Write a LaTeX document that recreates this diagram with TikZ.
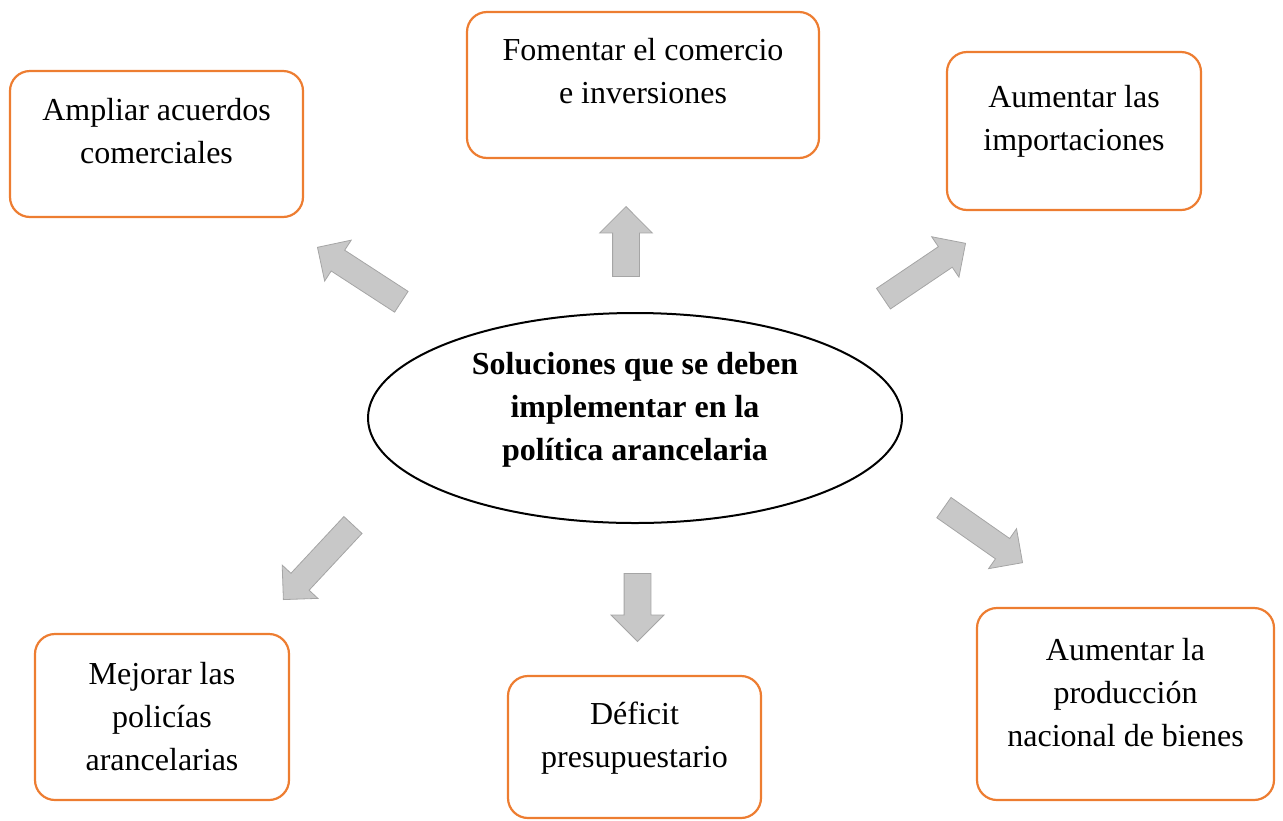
\documentclass[tikz,border=0pt]{standalone}
\usepackage{fontspec}
\setmainfont{Liberation Serif}
\usetikzlibrary{shapes.geometric,shapes.arrows}
\definecolor{naranja}{RGB}{237,125,49}
\definecolor{grisrelleno}{RGB}{200,200,200}
\definecolor{grisborde}{RGB}{165,165,165}

\begin{document}
\begin{tikzpicture}[
        % --- AJUSTES GENERALES ---
        x=1pt, y=-1pt, % una unidad = un pixel de la imagen
        % Estilo de las cajas (rectangulo redondeado naranja)
        caja/.style={
            rectangle,
            rounded corners=20pt,
            draw=naranja,
            line width=2.2pt
        },
        % Estilo del texto de las cajas
        texto/.style={
            anchor=north,
            align=center,
            inner sep=0pt,
            font=\fontsize{32}{43}\selectfont
        },
        % Estilo de la elipse central
        elipse/.style={
            ellipse,
            draw,
            line width=2pt,
            minimum width=534pt,
            minimum height=210pt
        },
        % Estilo de las flechas grises (colocadas por la punta)
        flecha/.style={
            single arrow,
            anchor=tip,
            draw=grisborde,
            fill=grisrelleno,
            line width=0.8pt,
            inner xsep=0pt,
            inner ysep=12pt, % medio ancho del cuerpo
            minimum width=48pt,
            single arrow head extend=12pt,
            single arrow head indent=0pt
        },
        % Flechas verticales (un poco mas anchas)
        flechav/.style={
            flecha,
            inner ysep=13pt,
            minimum width=52pt,
            single arrow head extend=13pt
        }
    ]

    % Marco de la imagen
    \useasboundingbox (0,0) rectangle (1283,820);

    % --- CENTRO: ELIPSE ---
    \node[elipse] (sol) at (635,418) {};
    \node[align=center, inner sep=0pt, font=\bfseries\fontsize{32}{43}\selectfont] (sol-t) at (635,410)
        {Soluciones que se deben\\implementar en la\\política arancelaria};

    % --- FILA SUPERIOR ---
    \node[caja, minimum width=293pt, minimum height=146pt] (amp) at (156.5,144) {};
    \node[texto] (amp-t) at (156.5,98) {Ampliar acuerdos\\comerciales};

    \node[caja, minimum width=352pt, minimum height=146pt] (fom) at (643,85) {};
    \node[texto] (fom-t) at (643,38) {Fomentar el comercio\\e inversiones};

    \node[caja, minimum width=254pt, minimum height=158pt] (imp) at (1074,131) {};
    \node[texto] (imp-t) at (1074,85) {Aumentar las\\importaciones};

    % --- FILA INFERIOR ---
    \node[caja, minimum width=254pt, minimum height=166pt] (mej) at (162,717) {};
    \node[texto] (mej-t) at (162,662) {Mejorar las\\policías\\arancelarias};

    \node[caja, minimum width=253pt, minimum height=142pt] (def) at (634.5,747) {};
    \node[texto] (def-t) at (634.5,702) {Déficit\\presupuestario};

    \node[caja, minimum width=297pt, minimum height=192pt] (pro) at (1125.5,704) {};
    \node[texto] (pro-t) at (1125.5,638) {Aumentar la\\producción\\nacional de bienes};

    % --- FLECHAS (posicion = punta) ---
    \node[flecha, minimum height=100pt, rotate=147] (f-amp) at (317,247) {};
    \node[flechav, minimum height=70pt, rotate=90] (f-fom) at (626,206) {};
    \node[flecha, minimum height=99pt, rotate=34] (f-imp) at (966,243) {};
    \node[flecha, minimum height=102pt, rotate=227] (f-mej) at (283,600) {};
    \node[flechav, minimum height=68pt, rotate=270] (f-def) at (637.5,642) {};
    \node[flecha, minimum height=96pt, rotate=325] (f-pro) at (1023,563) {};

\end{tikzpicture}
\end{document}
